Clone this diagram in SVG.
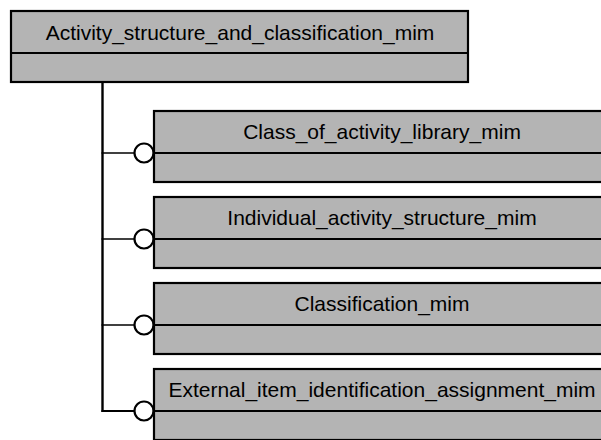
<svg xmlns="http://www.w3.org/2000/svg" width="601" height="440" viewBox="0 0 601 440">
<style>
.box{fill:#b4b4b4;stroke:#000;stroke-width:2.2}
.div{stroke:#000;stroke-width:2.2;fill:none}
.ttl{font-family:"Liberation Sans",Arial,sans-serif;font-size:21px;fill:#000;text-anchor:middle}
.ln{stroke:#000;fill:none}
.cir{fill:#fff;stroke:#000;stroke-width:2.2}
</style>
<rect width="601" height="440" fill="#fff"/>
<g id="connectors">
<line class="ln" x1="102.5" y1="82" x2="102.5" y2="412" stroke-width="2.4"/>
<line class="ln" x1="101.5" y1="153" x2="135" y2="153" stroke-width="1.6"/>
<line class="ln" x1="101.5" y1="239" x2="135" y2="239" stroke-width="1.6"/>
<line class="ln" x1="101.5" y1="325" x2="135" y2="325" stroke-width="1.6"/>
<line class="ln" x1="101.5" y1="411" x2="135" y2="411" stroke-width="2.2"/>
<circle class="cir" cx="144" cy="153" r="9.5"/>
<circle class="cir" cx="144" cy="239" r="9.5"/>
<circle class="cir" cx="144" cy="325" r="9.5"/>
<circle class="cir" cx="144" cy="411" r="9.5"/>
</g>
<g id="Activity_structure_and_classification_mim">
<rect class="box" x="11" y="11" width="457" height="71"/>
<line class="div" x1="11" y1="53" x2="468" y2="53"/>
<text class="ttl" x="240" y="40">Activity_structure_and_classification_mim</text>
</g>
<g id="Class_of_activity_library_mim">
<rect class="box" x="154" y="111" width="457" height="71"/>
<line class="div" x1="154" y1="153" x2="611" y2="153"/>
<text class="ttl" x="382" y="139">Class_of_activity_library_mim</text>
</g>
<g id="Individual_activity_structure_mim">
<rect class="box" x="154" y="197" width="457" height="71"/>
<line class="div" x1="154" y1="239" x2="611" y2="239"/>
<text class="ttl" x="382" y="225">Individual_activity_structure_mim</text>
</g>
<g id="Classification_mim">
<rect class="box" x="154" y="283" width="457" height="71"/>
<line class="div" x1="154" y1="325" x2="611" y2="325"/>
<text class="ttl" x="382" y="311">Classification_mim</text>
</g>
<g id="External_item_identification_assignment_mim">
<rect class="box" x="154" y="369" width="457" height="71"/>
<line class="div" x1="154" y1="411" x2="611" y2="411"/>
<text class="ttl" x="382" y="397">External_item_identification_assignment_mim</text>
</g>
</svg>
